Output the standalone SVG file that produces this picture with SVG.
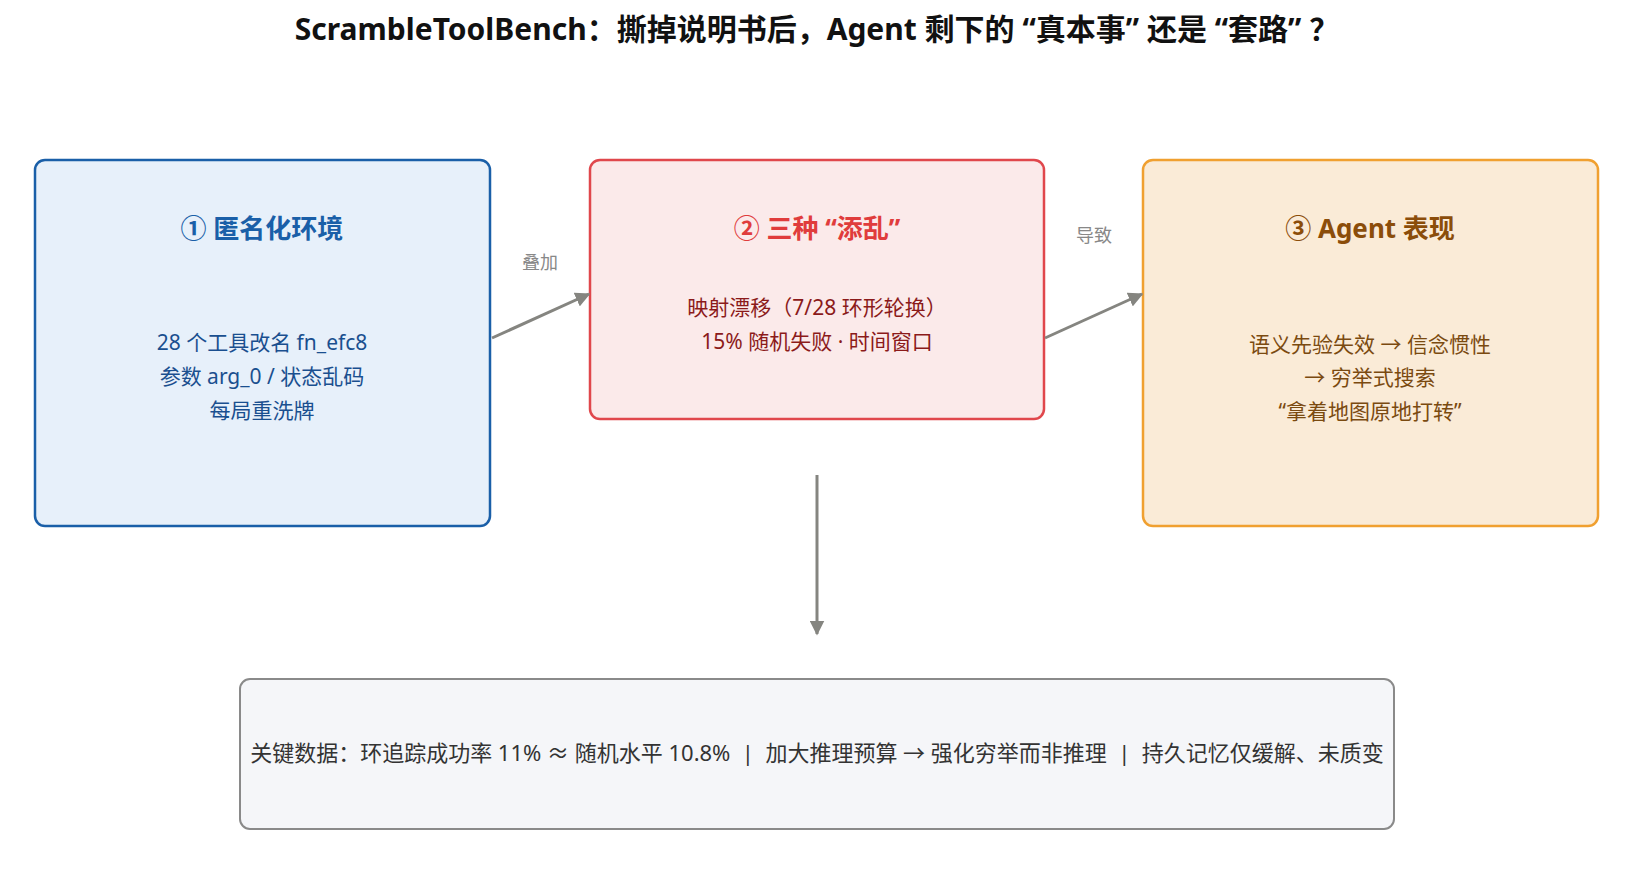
<svg xmlns="http://www.w3.org/2000/svg" width="1635" height="885" viewBox="0 0 1635 885">
<style>
text{font-family:"Noto Sans","Noto Sans CJK SC",sans-serif;text-anchor:middle}
.t{font-size:26px;font-weight:bold}
.b{font-size:21px}
.l{font-size:18px;fill:#888}
.c{stroke:#858580;stroke-width:3;fill:none}
</style>
<defs><marker id="a" viewBox="0 0 10 10" refX="9" refY="5" markerWidth="5" markerHeight="5" orient="auto"><path d="M0,0L10,5L0,10z" fill="#858580"/></marker></defs>
<rect width="1635" height="885" fill="#fff"/>
<text x="817" y="40" style="font-size:30px;font-weight:bold" fill="#111">ScrambleToolBench：撕掉说明书后，Agent 剩下的 “真本事” 还是 “套路” ？</text>
<g id="n1"><rect x="35" y="160" width="455" height="366" rx="10" fill="#e7f0fa" stroke="#1a5fa8" stroke-width="2.5"/>
<text class="t" x="262" y="238" fill="#1a5fa8">① 匿名化环境</text>
<text class="b" x="262" y="350" fill="#1a4f8f">28 个工具改名 fn_efc8</text>
<text class="b" x="262" y="384" fill="#1a4f8f">参数 arg_0 / 状态乱码</text>
<text class="b" x="262" y="418" fill="#1a4f8f">每局重洗牌</text></g>
<g id="n2"><rect x="590" y="160" width="454" height="259" rx="10" fill="#fbeaea" stroke="#e0474c" stroke-width="2.5"/>
<text class="t" x="817" y="238" fill="#e03c3c">② 三种 “添乱”</text>
<text class="b" x="817" y="315" fill="#8b1a1a">映射漂移（7/28 环形轮换）</text>
<text class="b" x="817" y="349" fill="#8b1a1a">15% 随机失败 · 时间窗口</text></g>
<g id="n3"><rect x="1143" y="160" width="455" height="366" rx="10" fill="#faebd7" stroke="#f0a030" stroke-width="2.5"/>
<text class="t" x="1370" y="238" fill="#8b4d0a">③ Agent 表现</text>
<text class="b" x="1370" y="352" fill="#7a4a10">语义先验失效 → 信念惯性</text>
<text class="b" x="1370" y="385" fill="#7a4a10">→ 穷举式搜索</text>
<text class="b" x="1370" y="419" fill="#7a4a10">“拿着地图原地打转”</text></g>
<g id="n4"><rect x="240" y="679" width="1154" height="150" rx="10" fill="#f5f6f9" stroke="#8a8a8a" stroke-width="2"/>
<text x="817" y="761" style="font-size:22px" fill="#333" xml:space="preserve">关键数据：环追踪成功率 11% ≈ 随机水平 10.8%  |  加大推理预算 → 强化穷举而非推理  |  持久记忆仅缓解、未质变</text></g>
<g id="connectors">
<line class="c" x1="492" y1="338" x2="589" y2="294" marker-end="url(#a)"/>
<text class="l" x="540" y="269">叠加</text>
<line class="c" x1="1045" y1="338" x2="1142" y2="294" marker-end="url(#a)"/>
<text class="l" x="1094" y="242">导致</text>
<line class="c" x1="817" y1="475" x2="817" y2="634" marker-end="url(#a)"/>
</g>
</svg>
